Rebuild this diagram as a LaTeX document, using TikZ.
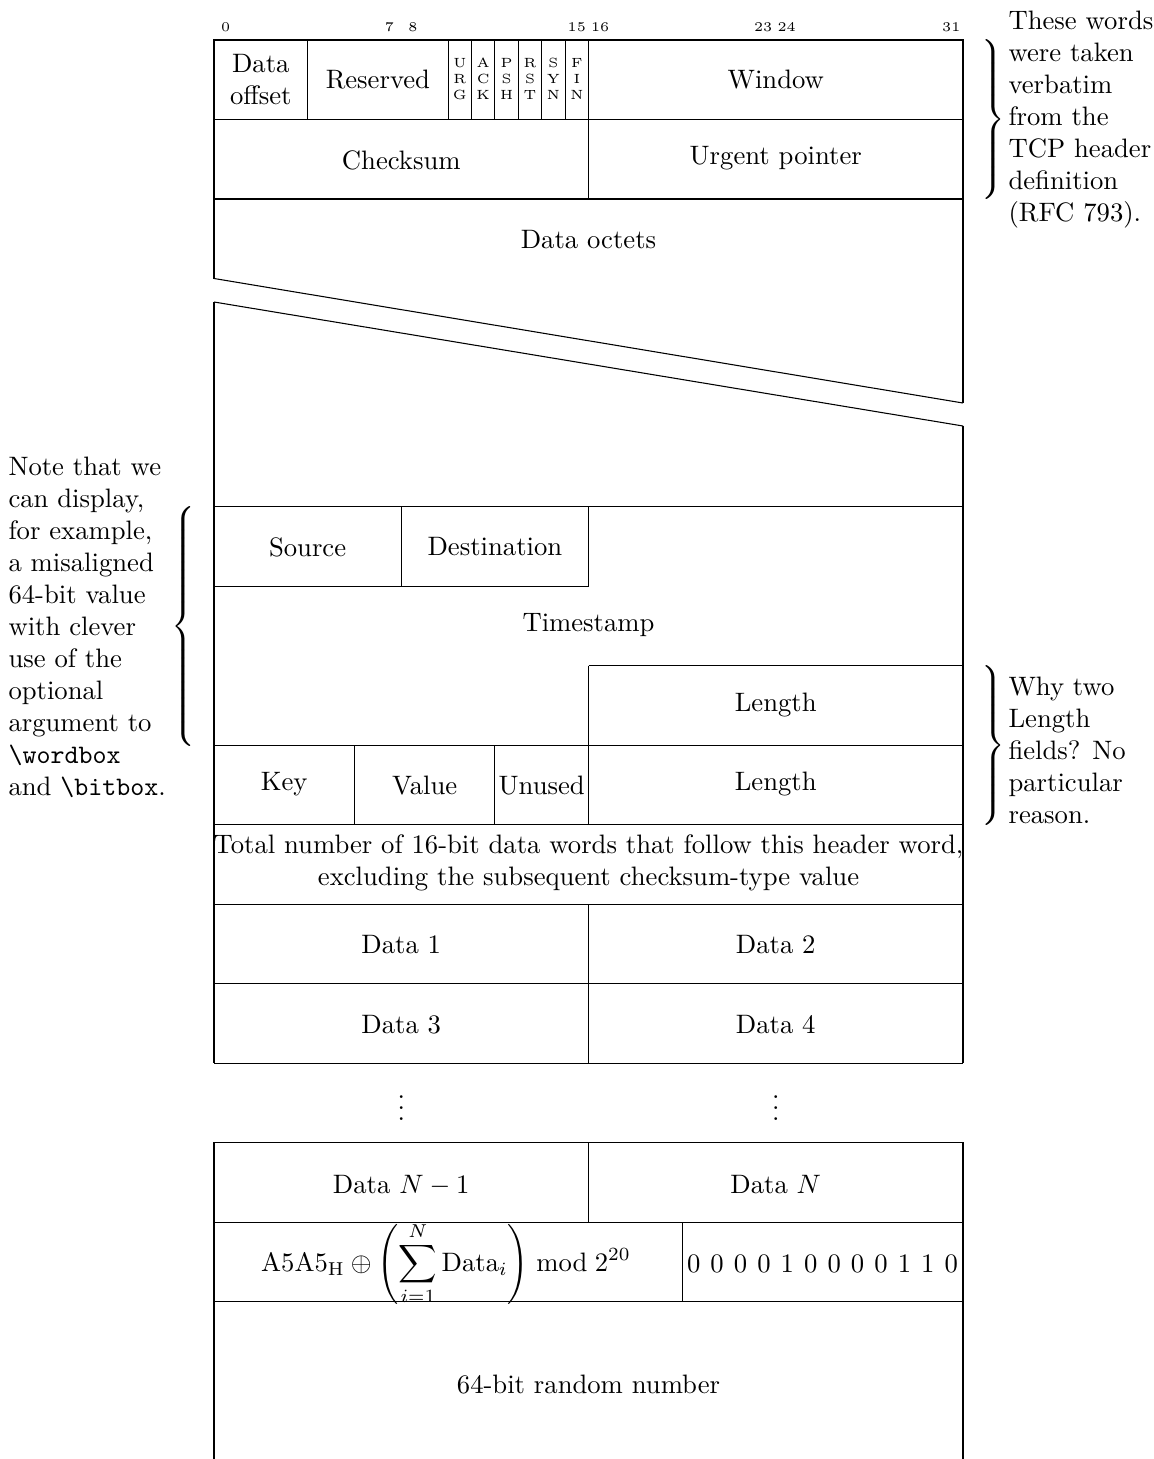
\documentclass[tikz,border=0pt]{standalone}
\usepackage{amsmath}
\begin{document}
\begin{tikzpicture}[x=0.375pt,y=-0.375pt,
  line width=0.4pt,
  lbl/.style={inner sep=0pt,anchor=center,align=center},
  bitnum/.style={inner sep=0pt,anchor=center,font=\tiny},
  flag/.style={inner sep=0pt,anchor=center,align=center,font=\tiny},
  note/.style={inner sep=0pt,align=left},
  curly/.style={inner sep=0pt}]
\useasboundingbox (0,0) rectangle (1154,1459);

% ---- bit numbers
\node[bitnum] (b0)  at (225.7,27) {0};
\node[bitnum] (b7)  at (389.5,27) {7};
\node[bitnum] (b8)  at (413.0,27) {8};
\node[bitnum] (b15) at (576.8,27) {15};
\node[bitnum] (b16) at (600.2,27) {16};
\node[bitnum] (b23) at (763.2,27) {23};
\node[bitnum] (b24) at (786.6,27) {24};
\node[bitnum] (b31) at (951.3,27) {31};

% ---- row 0 and row 1 (TCP words)
\draw (214,40) rectangle (963,199);
\draw (214,119.5) -- (963,119.5);
\foreach \xx in {307.6,448.1,471.5,494.9,518.3,541.7,565.1,588.5}
  \draw (\xx,40) -- (\xx,119.5);
\draw (588.5,119.5) -- (588.5,199);
\node[lbl] (doff) at (260.8,80) {Data\\offset};
\node[lbl] (resv) at (377.9,80) {Reserved};
\node[flag] (urg) at (459.8,79) {U\\R\\G};
\node[flag] (ack) at (483.2,79) {A\\C\\K};
\node[flag] (psh) at (506.6,79) {P\\S\\H};
\node[flag] (rst) at (530.0,79) {R\\S\\T};
\node[flag] (syn) at (553.4,79) {S\\Y\\N};
\node[flag] (fin) at (576.8,79) {F\\I\\N};
\node[lbl] (win) at (775.75,80) {Window};
\node[lbl] (chk) at (401.25,160) {Checksum};
\node[lbl] (urgp) at (775.75,158) {Urgent pointer};

% ---- data octets with skipped words
\draw (214,278.5) -- (214,199) -- (963,199) -- (963,403);
\draw (214,278.5) -- (963,403);
\draw (214,302) -- (963,426);
\draw (963,426) -- (963,506.7) -- (214,506.7) -- (214,302);
\node[lbl] (octets) at (588.5,240) {Data octets};

% ---- source / destination / timestamp / length
\draw (214,506.7) -- (214,1063.2);
\draw (963,506.7) -- (963,1063.2);
\draw (401.25,506.7) -- (401.25,586.2);
\draw (588.5,506.7) -- (588.5,586.2);
\draw (214,586.2) -- (588.5,586.2);
\draw (588.5,665.7) -- (963,665.7);
\draw (588.5,665.7) -- (588.5,824.7);
\draw (214,745.2) -- (963,745.2);
\draw (354.4,745.2) -- (354.4,824.7);
\draw (494.9,745.2) -- (494.9,824.7);
\draw (214,824.7) -- (963,824.7);
\draw (214,904.2) -- (963,904.2);
\draw (214,983.7) -- (963,983.7);
\draw (214,1063.2) -- (963,1063.2);
\draw (588.5,904.2) -- (588.5,1063.2);

\node[lbl] (src) at (307.6,547) {Source};
\node[lbl] (dst) at (494.9,547) {Destination};
\node[lbl] (ts) at (588.5,625) {Timestamp};
\node[lbl] (len1) at (775.75,705) {Length};
\node[lbl] (key) at (284.2,784) {Key};
\node[lbl] (val) at (424.6,786) {Value};
\node[lbl] (unu) at (541.7,786) {Unused};
\node[lbl] (len2) at (775.75,784) {Length};
\node[lbl] (total) at (588.5,863) {Total number of 16-bit data words that follow this header word,\\excluding the subsequent checksum-type value};
\node[lbl] (d1) at (401.25,945) {Data 1};
\node[lbl] (d2) at (775.75,945) {Data 2};
\node[lbl] (d3) at (401.25,1025) {Data 3};
\node[lbl] (d4) at (775.75,1025) {Data 4};

% ---- dots
\node[lbl] (vd1) at (401.25,1100) {$\vdots$};
\node[lbl] (vd2) at (775.75,1100) {$\vdots$};

% ---- last words
\draw (214,1301.7) -- (214,1142.7) -- (963,1142.7) -- (963,1301.7);
\draw (214,1222.2) -- (963,1222.2);
\draw (214,1301.7) -- (963,1301.7);
\draw (588.5,1142.7) -- (588.5,1222.2);
\draw (682.1,1222.2) -- (682.1,1301.7);
\draw (214,1301.7) -- (214,1459);
\draw (963,1301.7) -- (963,1459);
\node[lbl] (dn1) at (401.25,1185) {Data $N-1$};
\node[lbl] (dn) at (775.75,1185) {Data $N$};
\node[lbl] (csum) at (446,1264) {$\displaystyle \mathrm{A5A5}_{\mathrm{H}} \oplus \left(\sum_{i=1}^{N} \mathrm{Data}_i\right) \bmod 2^{20}$};
\node[lbl] (bits) at (822.5,1264) {\spaceskip=3.78pt plus 0pt minus 0pt 0 0 0 0 1 0 0 0 0 1 1 0};
\node[lbl] (rand) at (588.5,1385) {64-bit random number};

% ---- braces and notes
\node[curly,anchor=west] (br1) at (978,119.5) {$\delimitershortfall=0pt\delimiterfactor=1000\left.\vcenter{\hbox{\vrule height 59.6pt width 0pt}}\right\rbrace$};
\node[note,anchor=west] (n1) at (1008,119.5) {These words\\were taken\\verbatim\\from the\\TCP header\\definition\\(RFC 793).};

\node[curly,anchor=east] (br2) at (199,626) {$\delimitershortfall=0pt\delimiterfactor=1000\left\lbrace\vcenter{\hbox{\vrule height 89.4pt width 0pt}}\right.$};
\node[note,anchor=west] (n2) at (8,627) {Note that we\\can display,\\for example,\\a misaligned\\64-bit value\\with clever\\use of the\\optional\\argument to\\\texttt{\textbackslash wordbox}\\and \texttt{\textbackslash bitbox}.};

\node[curly,anchor=west] (br3) at (978,745.2) {$\delimitershortfall=0pt\delimiterfactor=1000\left.\vcenter{\hbox{\vrule height 59.6pt width 0pt}}\right\rbrace$};
\node[note,anchor=west] (n3) at (1008,750) {Why two\\Length\\fields?  No\\particular\\reason.};
\end{tikzpicture}
\end{document}
